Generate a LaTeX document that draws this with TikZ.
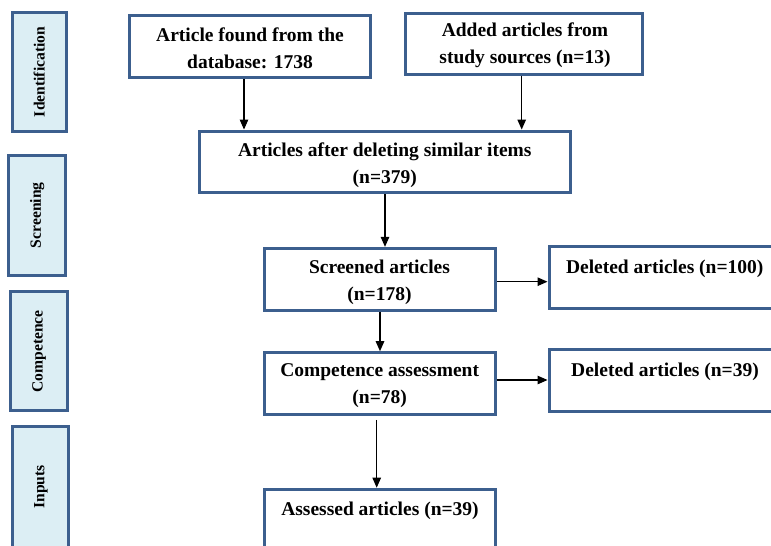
\documentclass[tikz,border=0pt]{standalone}
\usepackage{fontspec}
\setmainfont{Liberation Serif}
\usetikzlibrary{arrows.meta}
\definecolor{bordblue}{HTML}{3C5F8E}
\definecolor{fillblue}{HTML}{DCEEF4}
\tikzset{
  flowbox/.style={draw=bordblue, line width=3pt, fill=white, rectangle, inner sep=0pt},
  sidebox/.style={draw=bordblue, line width=3pt, fill=fillblue, rectangle, inner sep=0pt,
    rotate=90, font=\fontsize{15.6}{18}\selectfont\bfseries},
  boxtext/.style={inner sep=0pt, align=center, anchor=base, font=\fontsize{19.5}{26.6}\selectfont\bfseries},
  flowarrow/.style={draw=black, line width=1.2pt, -{Triangle[length=10pt,width=8.5pt]}}
}
\begin{document}
\begin{tikzpicture}[x=1pt,y=-1pt]
\clip (0,0) rectangle (771,546);
\fill[white] (0,0) rectangle (771,546);
% side boxes (rotated: minimum width = vertical extent)
\node[sidebox, minimum width=119.4pt, minimum height=53.7pt] (sid) at (39.2,72) {Identification};
\node[sidebox, minimum width=119.4pt, minimum height=56.8pt] (ssc) at (37.1,215.3) {Screening};
\node[sidebox, minimum width=119.1pt, minimum height=57.5pt] (sco) at (39.2,351.4) {Competence};
\node[sidebox, minimum width=121pt, minimum height=56pt] (sin) at (40.9,487) {Inputs};
% main flow boxes
\node[flowbox, minimum width=241.4pt, minimum height=62pt] (b1) at (250,46.7) {};
\node[flowbox, minimum width=237pt, minimum height=60.7pt] (b2) at (523.5,43.7) {};
\node[flowbox, minimum width=371.4pt, minimum height=61.7pt] (b3) at (385,161.9) {};
\node[flowbox, minimum width=231.7pt, minimum height=61.7pt] (b4) at (379.9,279.2) {};
\node[flowbox, minimum width=231.7pt, minimum height=61.6pt] (b5) at (379.9,383.5) {};
\node[flowbox, minimum width=231.7pt, minimum height=80pt, anchor=north] (b6) at (379.9,487.7) {};
\node[flowbox, minimum width=231pt, minimum height=61.6pt] (d1) at (664.5,277.5) {};
\node[flowbox, minimum width=231pt, minimum height=61.7pt] (d2) at (664.5,380.8) {};
% texts (base = last-line baseline)
\node[boxtext] (t1) at (250,68.3) {Article found from the\\database: 1738};
\node[boxtext] (t2) at (525,63) {Added articles from\\study sources (n=13)};
\node[boxtext] (t3) at (384.8,183) {Articles after deleting similar items\\(n=379)};
\node[boxtext] (t4) at (379.5,300) {Screened articles\\(n=178)};
\node[boxtext] (t5) at (379.7,403.3) {Competence assessment\\(n=78)};
\node[boxtext] (t6) at (380,515) {Assessed articles (n=39)};
\node[boxtext] (td1) at (664.7,273) {Deleted articles (n=100)};
\node[boxtext] (td2) at (665,376.7) {Deleted articles (n=39)};
% connectors
\draw[flowarrow] (b1.south -| 244,0) -- (b3.north -| 244,0);
\draw[flowarrow] (b2.south -| 521.7,0) -- (b3.north -| 521.7,0);
\draw[flowarrow] (b3.south -| 385,0) -- (b4.north -| 385,0);
\draw[flowarrow] (b4.south -| 380,0) -- (b5.north -| 380,0);
\draw[flowarrow] ([yshift=-4pt]b5.south -| 376.7,0) -- (b6.north -| 376.7,0);
\draw[flowarrow] (b4.east |- 0,281.7) -- (d1.west |- 0,281.7);
\draw[flowarrow] (b5.east |- 0,380) -- (d2.west |- 0,380);
\end{tikzpicture}
\end{document}
